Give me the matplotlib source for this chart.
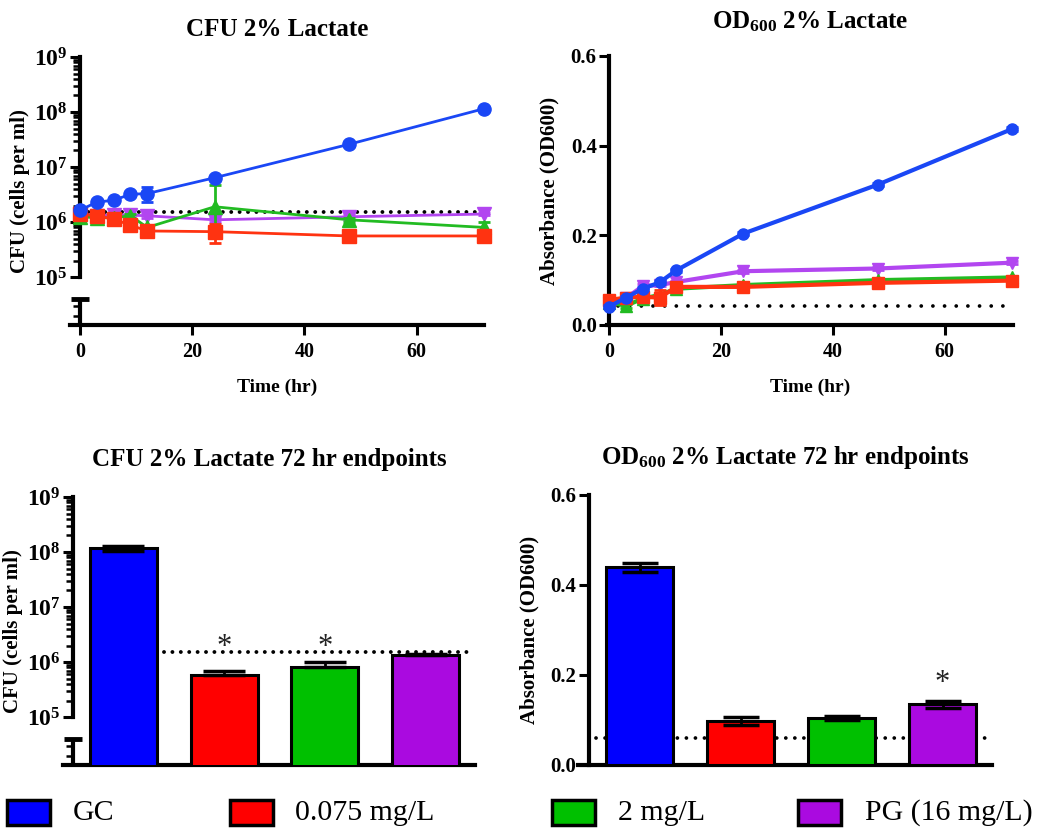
import numpy as np
import matplotlib
matplotlib.use('Agg')
import matplotlib.pyplot as plt
from matplotlib.ticker import FixedLocator, FuncFormatter, NullFormatter
from matplotlib.patches import Rectangle

plt.rcParams['font.family'] = 'Liberation Serif'
plt.rcParams['font.weight'] = 'bold'
plt.rcParams['mathtext.fontset'] = 'custom'
plt.rcParams['mathtext.rm'] = 'Liberation Serif:bold'
plt.rcParams['mathtext.bf'] = 'Liberation Serif:bold'
plt.rcParams['mathtext.it'] = 'Liberation Serif:bold'

groups = ['GC', '0.075 mg/L', '2 mg/L', 'PG (16 mg/L)']
time_hr = [0, 3, 6, 9, 12, 24, 48, 72]

# CFU time course (cells per ml)
cfu_gc = [1.65e6, 2.3e6, 2.5e6, 3.2e6, 3.3e6, 6.4e6, 2.6e7, 1.15e8]
cfu_low = [1.4e6, 1.3e6, 1.13e6, 8.8e5, 6.9e5, 6.7e5, 5.6e5, 5.6e5]
cfu_mid = [1.25e6, 1.2e6, 1.2e6, 1.3e6, 8.0e5, 1.9e6, 1.1e6, 8.0e5]
cfu_pg = [1.4e6, 1.3e6, 1.35e6, 1.34e6, 1.3e6, 1.1e6, 1.25e6, 1.4e6]
cfu_gc_sd = [1e5, 1e5, 1e5, 1.5e5, 1.0e6, 3e5, 1e6, 4e6]
cfu_low_sd = [1e5, 1.2e5, 1.2e5, 1.5e5, 1e5, 2.5e5, 5e4, 5e4]
cfu_mid_sd = [1.5e5, 1.5e5, 5e4, 1e5, 5e4, 2.9e6, 1e5, 2e5]
cfu_pg_sd = [5e4, 5e4, 5e4, 5e4, 1e5, 1e5, 1.5e5, 5e4]
cfu_baseline = 1.5e6

# OD600 time course
od_gc = [0.041, 0.061, 0.081, 0.095, 0.122, 0.204, 0.313, 0.437]
od_low = [0.056, 0.061, 0.063, 0.061, 0.085, 0.085, 0.094, 0.099]
od_mid = [0.050, 0.043, 0.059, 0.067, 0.081, 0.089, 0.100, 0.106]
od_pg = [0.050, 0.060, 0.087, 0.089, 0.096, 0.120, 0.126, 0.139]
od_gc_sd = [0.003, 0.003, 0.003, 0.003, 0.004, 0.003, 0.004, 0.004]
od_low_sd = [0.008, 0.004, 0.004, 0.016, 0.004, 0.006, 0.008, 0.004]
od_mid_sd = [0.003, 0.004, 0.004, 0.004, 0.004, 0.006, 0.003, 0.004]
od_pg_sd = [0.003, 0.003, 0.005, 0.003, 0.003, 0.003, 0.003, 0.003]
od_baseline = 0.043

# 72 hr endpoints
cfu_72 = [1.18e8, 5.8e5, 8.1e5, 1.35e6]
cfu_72_lo = [1.2e7, 0, 0, 0]
cfu_72_hi = [1.2e7, 1.0e5, 1.9e5, 5e4]
od_72 = [0.440, 0.097, 0.105, 0.135]
od_72_sd = [0.010, 0.009, 0.005, 0.008]
end_cfu_baseline = 1.5e6
end_od_baseline = 0.06
cfu_star = [False, True, True, False]
od_star = [False, False, False, True]

line_colors = ['#1a47f5', '#ff3311', '#22bb22', '#b246f0']
bar_colors = ['#0000ff', '#ff0000', '#00c000', '#aa0ae0']
markers = ['o', 's', '^', 'v']

W, H = 1042, 836
fig = plt.figure(figsize=(W / 100, H / 100), dpi=100)


def rect(l, t, r, b):
    return [l / W, 1 - b / H, (r - l) / W, (b - t) / H]


ax1 = fig.add_axes(rect(70, 57, 484, 325))
ax2 = fig.add_axes(rect(607, 56, 1013, 325))
ax3 = fig.add_axes(rect(63, 497, 475, 765))
ax4 = fig.add_axes(rect(578, 495, 992, 765))


def style(ax, spine_x):
    for s in ['top', 'right']:
        ax.spines[s].set_visible(False)
    for s in ['left', 'bottom']:
        ax.spines[s].set_linewidth(3)
    ax.spines['left'].set_position(('data', spine_x))
    ax.tick_params(axis='y', which='major', length=7, width=2.2, pad=2, labelsize=15)
    ax.tick_params(axis='y', which='minor', length=5, width=1.8)
    ax.tick_params(axis='x', which='major', length=7, width=2.2, pad=5, labelsize=14.5)


def log_axis(ax, spine_x):
    ax.set_yscale('log')
    lo = 10 ** 4.13
    ax.set_ylim(lo, 1e9)
    ax.yaxis.set_major_locator(FixedLocator([1e5, 1e6, 1e7, 1e8, 1e9]))
    ax.yaxis.set_major_formatter(FuncFormatter(lambda v, p: r'$\mathbf{10^{%d}}$' % round(np.log10(v))))
    ax.tick_params(axis='y', which='major', labelsize=17)
    minors = [m * 10.0 ** d for d in range(5, 9) for m in range(2, 10)] + [2e4, 3e4]
    ax.yaxis.set_minor_locator(FixedLocator(minors))
    ax.yaxis.set_minor_formatter(NullFormatter())
    ax.spines['left'].set_bounds(1e5, 1e9)
    # lower piece of the broken axis, capped like a major tick
    ax.plot([spine_x, spine_x], [lo, 4e4], color='k', lw=3, clip_on=False,
            solid_capstyle='butt', zorder=5)
    ax.plot([spine_x], [4e4], marker='_', ms=13, mew=3.5, color='k', clip_on=False, zorder=5)


def dotted(ax, xs, yv, lw, gap, z):
    ax.plot(xs, [yv, yv], color='k', lw=lw, linestyle=(0, (0.01, gap)),
            dash_capstyle='round', zorder=z)


# --- CFU time course ---
style(ax1, 0)
log_axis(ax1, 0)
ax1.set_xlim(-1.78, 72)
ax1.set_xticks([0, 20, 40, 60])
dotted(ax1, [0, 72], cfu_baseline, 2.8, 2.15, 2)
cfu_series = [cfu_gc, cfu_low, cfu_mid, cfu_pg]
cfu_sds = [cfu_gc_sd, cfu_low_sd, cfu_mid_sd, cfu_pg_sd]
for i in [3, 2, 1, 0]:
    y = np.array(cfu_series[i])
    sd = np.array(cfu_sds[i])
    ax1.errorbar(time_hr, y, yerr=[np.minimum(sd, 0.6 * y), sd], color=line_colors[i],
                 marker=markers[i], ms=9.5, lw=2, elinewidth=2, capsize=4, capthick=2,
                 clip_on=False, zorder=3 + (3 - i))
ax1.set_title('CFU 2% Lactate', fontsize=18, fontweight='bold', pad=15)
ax1.set_xlabel('Time (hr)', fontsize=14, fontweight='bold', labelpad=12)
ax1.set_ylabel('CFU (cells per ml)', fontsize=15, fontweight='bold', labelpad=3)

# --- OD600 time course ---
style(ax2, 0)
ax2.set_xlim(-0.4, 72.2)
ax2.set_ylim(0, 0.6)
ax2.set_xticks([0, 20, 40, 60])
ax2.set_yticks([0.0, 0.2, 0.4, 0.6])
ax2.yaxis.set_major_formatter(FuncFormatter(lambda v, p: '%.1f' % v))
dotted(ax2, [1.5, 71], od_baseline, 2.7, 3.1, 2)
od_series = [od_gc, od_low, od_mid, od_pg]
od_sds = [od_gc_sd, od_low_sd, od_mid_sd, od_pg_sd]
for i in [3, 2, 1, 0]:
    ax2.errorbar(time_hr, od_series[i], yerr=od_sds[i], color=line_colors[i],
                 marker=markers[i], ms=8, lw=3, elinewidth=2, capsize=4, capthick=2,
                 clip_on=False, zorder=3 + (3 - i))
ax2.set_title(r'OD$_{\mathbf{600}}$ 2% Lactate', fontsize=18, fontweight='bold', pad=20)
ax2.set_xlabel('Time (hr)', fontsize=14, fontweight='bold', labelpad=12)
ax2.set_ylabel('Absorbance (OD600)', fontsize=15, fontweight='bold', labelpad=8)

# --- CFU endpoints ---
x = np.arange(len(groups))
style(ax3, -0.5)
log_axis(ax3, -0.5)
ax3.set_xlim(-0.6, 3.49)
ax3.set_xticks([])
dotted(ax3, [0.4, 3.45], end_cfu_baseline, 2.8, 2.15, 4)
ax3.bar(x, cfu_72, width=0.665, color=bar_colors, edgecolor='k', linewidth=2.2, zorder=3)
ax3.errorbar(x, cfu_72, yerr=[cfu_72_lo, cfu_72_hi], fmt='none', ecolor='k',
             elinewidth=2, capsize=15, capthick=2.5, zorder=5)
for i, s in enumerate(cfu_star):
    if s:
        ax3.text(x[i], 1.85e6, '*', ha='center', va='center', fontsize=22,
                 fontweight='normal', color='#222222')
ax3.set_title('CFU 2% Lactate 72 hr endpoints', fontsize=18, fontweight='bold', pad=22)
ax3.set_ylabel('CFU (cells per ml)', fontsize=15, fontweight='bold', labelpad=3)

# --- OD600 endpoints ---
style(ax4, -0.5)
ax4.set_xlim(-0.61, 3.49)
ax4.set_ylim(0, 0.6)
ax4.set_xticks([])
ax4.set_yticks([0.0, 0.2, 0.4, 0.6])
ax4.yaxis.set_major_formatter(FuncFormatter(lambda v, p: '%.1f' % v))
dotted(ax4, [-0.43, 3.45], end_od_baseline, 2.7, 2.4, 2)
ax4.bar(x, od_72, width=0.67, color=bar_colors, edgecolor='k', linewidth=2.2, zorder=3)
ax4.errorbar(x, od_72, yerr=od_72_sd, fmt='none', ecolor='k',
             elinewidth=2, capsize=13, capthick=2.5, zorder=5)
for i, s in enumerate(od_star):
    if s:
        ax4.text(x[i], 0.18, '*', ha='center', va='center', fontsize=22,
                 fontweight='normal', color='#222222')
ax4.set_title(r'OD$_{\mathbf{600}}$ 2% Lactate 72 hr endpoints', fontsize=18,
              fontweight='bold', pad=22)
ax4.set_ylabel('Absorbance (OD600)', fontsize=15, fontweight='bold', labelpad=8)

# --- legend along the bottom ---
box_x = [7, 230, 552, 798]
text_x = [73, 295, 618, 865]
for i, g in enumerate(groups):
    fig.add_artist(Rectangle((box_x[i] / W, 1 - 825 / H), 43 / W, 25 / H,
                             transform=fig.transFigure, facecolor=bar_colors[i],
                             edgecolor='k', linewidth=2.5))
    fig.text(text_x[i] / W, 1 - 813 / H, g, fontsize=21.5, fontweight='normal',
             ha='left', va='center')

fig.savefig('out.png', dpi=100)
